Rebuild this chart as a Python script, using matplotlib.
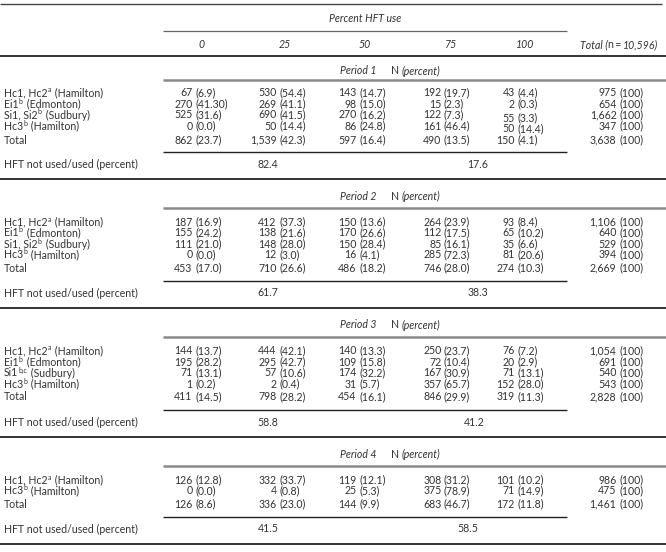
import matplotlib
matplotlib.use("Agg")
import matplotlib.pyplot as plt

plt.rcParams['font.family'] = ['Lato', 'DejaVu Sans']

# Table data
col_heads = ["0", "25", "50", "75", "100"]
periods = ["Period 1", "Period 2", "Period 3", "Period 4"]

# site labels: (base, superscript, place)
p1_sites = [("Hc1, Hc2", "a", " (Hamilton)"), ("Ei1", "b", " (Edmonton)"),
            ("Si1, Si2", "b", " (Sudbury)"), ("Hc3", "b", " (Hamilton)")]
p1_n = [[67, 530, 143, 192, 43], [270, 269, 98, 15, 2],
        [525, 690, 270, 122, 55], [0, 50, 86, 161, 50]]
p1_pct = [["6.9", "54.4", "14.7", "19.7", "4.4"], ["41.30", "41.1", "15.0", "2.3", "0.3"],
          ["31.6", "41.5", "16.2", "7.3", "3.3"], ["0.0", "14.4", "24.8", "46.4", "14.4"]]
p1_tot = [975, 654, 1662, 347]
p1_total_n = [862, 1539, 597, 490, 150]
p1_total_pct = ["23.7", "42.3", "16.4", "13.5", "4.1"]
p1_all = 3638
p1_hft = ["82.4", "17.6"]

p2_sites = p1_sites
p2_n = [[187, 412, 150, 264, 93], [155, 138, 170, 112, 65],
        [111, 148, 150, 85, 35], [0, 12, 16, 285, 81]]
p2_pct = [["16.9", "37.3", "13.6", "23.9", "8.4"], ["24.2", "21.6", "26.6", "17.5", "10.2"],
          ["21.0", "28.0", "28.4", "16.1", "6.6"], ["0.0", "3.0", "4.1", "72.3", "20.6"]]
p2_tot = [1106, 640, 529, 394]
p2_total_n = [453, 710, 486, 746, 274]
p2_total_pct = ["17.0", "26.6", "18.2", "28.0", "10.3"]
p2_all = 2669
p2_hft = ["61.7", "38.3"]

p3_sites = [("Hc1, Hc2", "a", " (Hamilton)"), ("Ei1", "b", " (Edmonton)"),
            ("Si1", "b,c", " (Sudbury)"), ("Hc3", "b", " (Hamilton)")]
p3_n = [[144, 444, 140, 250, 76], [195, 295, 109, 72, 20],
        [71, 57, 174, 167, 71], [1, 2, 31, 357, 152]]
p3_pct = [["13.7", "42.1", "13.3", "23.7", "7.2"], ["28.2", "42.7", "15.8", "10.4", "2.9"],
          ["13.1", "10.6", "32.2", "30.9", "13.1"], ["0.2", "0.4", "5.7", "65.7", "28.0"]]
p3_tot = [1054, 691, 540, 543]
p3_total_n = [411, 798, 454, 846, 319]
p3_total_pct = ["14.5", "28.2", "16.1", "29.9", "11.3"]
p3_all = 2828
p3_hft = ["58.8", "41.2"]

p4_sites = [("Hc1, Hc2", "a", " (Hamilton)"), ("Hc3", "b", " (Hamilton)")]
p4_n = [[126, 332, 119, 308, 101], [0, 4, 25, 375, 71]]
p4_pct = [["12.8", "33.7", "12.1", "31.2", "10.2"], ["0.0", "0.8", "5.3", "78.9", "14.9"]]
p4_tot = [986, 475]
p4_total_n = [126, 336, 144, 683, 172]
p4_total_pct = ["8.6", "23.0", "9.9", "46.7", "11.8"]
p4_all = 1461
p4_hft = ["41.5", "58.5"]

blocks = [
    (p1_sites, p1_n, p1_pct, p1_tot, p1_total_n, p1_total_pct, p1_all, p1_hft),
    (p2_sites, p2_n, p2_pct, p2_tot, p2_total_n, p2_total_pct, p2_all, p2_hft),
    (p3_sites, p3_n, p3_pct, p3_tot, p3_total_n, p3_total_pct, p3_all, p3_hft),
    (p4_sites, p4_n, p4_pct, p4_tot, p4_total_n, p4_total_pct, p4_all, p4_hft),
]

# Layout (pixels)
W, H = 666, 552
head_x = [202, 285, 365, 450, 525]
anchor_x = [195, 279, 359, 444, 517]
tot_anchor = 619
hft_x = [[268, 478], [268, 478], [268, 474], [268, 468]]
sub_l, sub_r = 163, 567
fs = 7.6
tc = "#333333"

fig = plt.figure(figsize=(W / 100, H / 100), dpi=100)
ax = fig.add_axes([0, 0, 1, 1])
ax.set_xlim(0, W)
ax.set_ylim(H, 0)
ax.axis("off")
renderer = fig.canvas.get_renderer()


def hline(y, x0, x1, c="#222222", lw=1.0):
    ax.plot([x0, x1], [y, y], color=c, lw=lw, solid_capstyle="butt")


def txt(x, y, s, ha="left", style="normal", size=fs):
    return ax.text(x, y, s, ha=ha, va="center", fontsize=size, color=tc, style=style)


def pieces(x, y, parts, ha="left"):
    """parts: list of (text, style, size, dy, extra gap); drawn one after another"""
    objs = []
    cx = x
    for s, st, sz, dy, gap in parts:
        t = txt(cx, y + dy, s, style=st, size=sz)
        cx += t.get_window_extent(renderer).width + gap
        objs.append(t)
    if ha == "right":
        shift = cx - x
        for t in objs:
            t.set_x(t.get_position()[0] - shift)
    return objs


def site_label(y, site):
    base, sup, rest = site
    pieces(4, y, [(base, "normal", fs, 0, 0.3), (sup, "normal", 5.0, -3, 1.2),
                  (rest, "normal", fs, 0, 0)])


def cell(ax_x, y, n, p):
    txt(ax_x - 2.5, y, f"{n:,}", ha="right")
    txt(ax_x, y, f"({p})", ha="left")


# header
hline(4, 0, 662, c="#444444", lw=1.0)
txt((sub_l + sub_r) / 2, 19, "Percent HFT use", ha="center", style="italic")
hline(31, sub_l, sub_r, c="#666666", lw=0.9)
for x, h in zip(head_x, col_heads):
    txt(x, 45, h, ha="center", style="italic")
pieces(658, 45, [("Total (", "italic", fs, 0, 0), ("n\u2009=\u2009", "normal", fs, 0, 0),
                 ("10,596)", "italic", fs, 0, 0)], ha="right")
hline(56, 0, W, c="#111111", lw=1.2)

cursor = 56
for k, (sites, ns, pcts, tots, tn, tp, alltot, hft) in enumerate(blocks):
    label_y = cursor + (15 if k == 0 else 17)
    pline = label_y + (9 if k == 0 else 12)
    first = pline + (13 if k == 0 else 14)

    txt(376, label_y, periods[k], ha="right", style="italic")
    pieces(391, label_y, [("N ", "normal", fs, 0, 0), ("(percent)", "italic", fs, 0, 0)])
    hline(pline, sub_l, W, c="#8a8a8a", lw=1.8)

    for i, site in enumerate(sites):
        y = first + 11 * i
        site_label(y, site)
        for j in range(5):
            dy = 0
            if k == 0 and j == 4 and i >= 2:
                dy = 3
            cell(anchor_x[j], y + dy, ns[i][j], pcts[i][j])
        txt(tot_anchor - 2.5, y, f"{tots[i]:,}", ha="right")
        txt(tot_anchor, y, "(100)")

    total_y = first + 11 * (len(sites) - 1) + (14 if k == 0 else 13)
    txt(4, total_y, "Total")
    for j in range(5):
        cell(anchor_x[j], total_y, tn[j], tp[j])
    txt(tot_anchor - 2.5, total_y, f"{alltot:,}", ha="right")
    txt(tot_anchor, total_y, "(100)")

    tline = total_y + (12 if k == 0 else 13)
    hline(tline, sub_l, sub_r, c="#222222", lw=1.0)
    hft_y = tline + 12
    txt(4, hft_y, "HFT not used/used (percent)")
    txt(hft_x[k][0], hft_y, hft[0], ha="center")
    txt(hft_x[k][1], hft_y, hft[1], ha="center")
    cursor = hft_y + 15
    hline(cursor, 0, W, c="#111111", lw=1.2)

plt.savefig("out.png", dpi=100)
